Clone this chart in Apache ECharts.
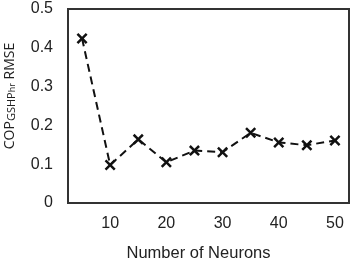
<!DOCTYPE html>
<html>
<head>
<meta charset="utf-8">
<script src="https://cdn.jsdelivr.net/npm/echarts@6/dist/echarts.min.js"></script>
<style>
  html, body { margin: 0; padding: 0; background: #fff; }
  #chart { width: 353px; height: 260px; }
</style>
</head>
<body>
<div id="chart"></div>
<script>
// number of neurons (x categories)
const neurons = ["5", "10", "15", "20", "25", "30", "35", "40", "45", "50"];
// COP GSHP hr RMSE values
const rmse = [0.424, 0.098, 0.164, 0.105, 0.135, 0.131, 0.181, 0.156, 0.149, 0.161];
const yTicks = [0, 0.1, 0.2, 0.3, 0.4, 0.5];

const chart = echarts.init(document.getElementById("chart"));
const font = "'Liberation Sans', Arial, sans-serif";
const titleFont = "'Open Sans', sans-serif";

chart.setOption({
  animation: false,
  grid: {
    left: 68,
    right: 4,
    top: 9,
    bottom: 57,
    outerBoundsMode: "none",
    show: true,
    borderColor: "#333",
    borderWidth: 2,
  },
  xAxis: {
    type: "category",
    data: neurons,
    boundaryGap: true,
    name: "Number of Neurons",
    nameLocation: "middle",
    nameGap: 42,
    nameTextStyle: { fontFamily: font, fontSize: 16.5, color: "#222", padding: [0, 20, 0, 0] },
    axisLine: { show: false },
    axisTick: { show: false },
    axisLabel: {
      interval: (i) => i % 2 === 1,
      margin: 13,
      fontFamily: font,
      fontSize: 16,
      color: "#222",
    },
  },
  yAxis: {
    type: "value",
    min: yTicks[0],
    max: yTicks[yTicks.length - 1],
    interval: 0.1,
    splitLine: { show: false },
    axisLine: { show: false },
    axisTick: { show: false },
    axisLabel: {
      margin: 15,
      fontFamily: font,
      fontSize: 16,
      color: "#222",
      formatter: (v) => String(Math.round(v * 10) / 10),
    },
    name: "{a|COP}{b|GSHP}{c|hr}{a| RMSE}",
    nameLocation: "middle",
    nameGap: 51,
    nameRotate: 90,
    nameTextStyle: {
      padding: [0, 0, 0, 20],
      rich: {
        a: { fontFamily: titleFont, fontSize: 14, color: "#222", verticalAlign: "bottom", lineHeight: 17 },
        b: { fontFamily: titleFont, fontSize: 11, color: "#222", verticalAlign: "bottom", lineHeight: 11 },
        c: { fontFamily: titleFont, fontSize: 9, color: "#222", verticalAlign: "bottom", lineHeight: 7 },
      },
    },
  },
  series: [
    {
      type: "line",
      data: rmse,
      symbol: "path://M1.6,0 L5,3.4 L8.4,0 L10,1.6 L6.6,5 L10,8.4 L8.4,10 L5,6.6 L1.6,10 L0,8.4 L3.4,5 L0,1.6 Z",
      symbolSize: 11,
      itemStyle: { color: "#111" },
      lineStyle: { color: "#111", width: 2, type: [8, 5] },
    },
  ],
});
</script>
</body>
</html>
